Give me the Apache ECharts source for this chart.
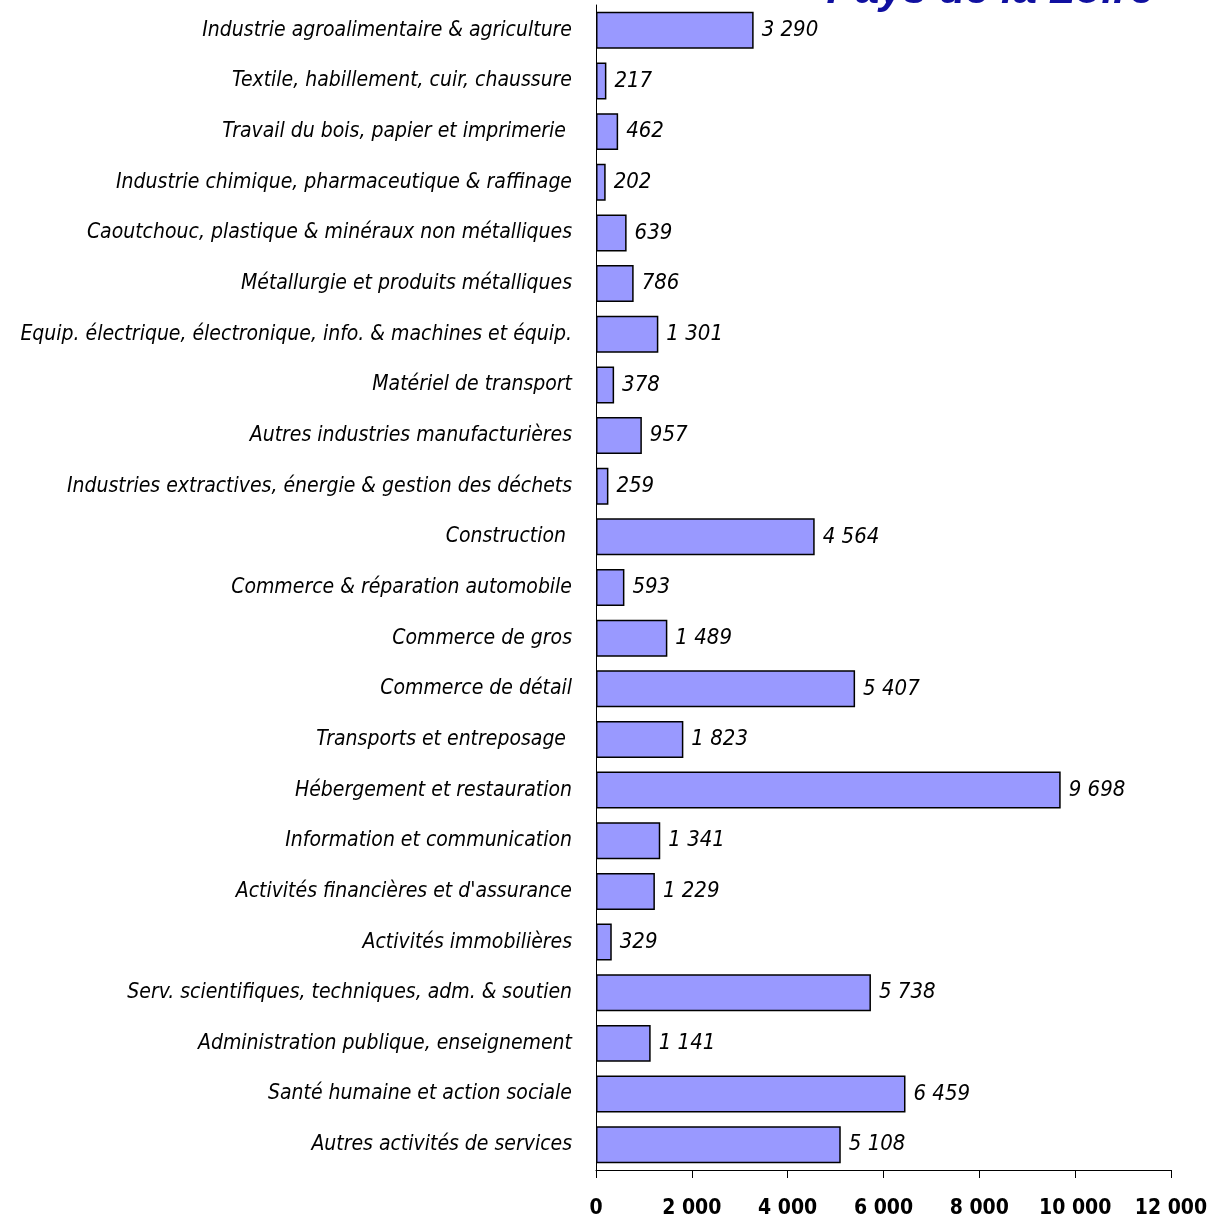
<!DOCTYPE html>
<html><head><meta charset="utf-8">
<script src="https://cdn.jsdelivr.net/npm/echarts@6/dist/echarts.min.js"></script>
<style>html,body{margin:0;padding:0;background:#fff}#c{width:1214px;height:1220px}</style>
</head><body><div id="c"></div>
<script>
const categories = [
  "Industrie agroalimentaire & agriculture",
  "Textile, habillement, cuir, chaussure",
  "Travail du bois, papier et imprimerie ",
  "Industrie chimique, pharmaceutique & raffinage",
  "Caoutchouc, plastique & minéraux non métalliques",
  "Métallurgie et produits métalliques",
  "Equip. électrique, électronique, info. & machines et équip.",
  "Matériel de transport",
  "Autres industries manufacturières",
  "Industries extractives, énergie & gestion des déchets",
  "Construction ",
  "Commerce & réparation automobile",
  "Commerce de gros",
  "Commerce de détail",
  "Transports et entreposage ",
  "Hébergement et restauration",
  "Information et communication",
  "Activités financières et d'assurance",
  "Activités immobilières",
  "Serv. scientifiques, techniques, adm. & soutien",
  "Administration publique, enseignement",
  "Santé humaine et action sociale",
  "Autres activités de services"
];
const values = [3290, 217, 462, 202, 639, 786, 1301, 378, 957, 259, 4564, 593, 1489, 5407, 1823, 9698, 1341, 1229, 329, 5738, 1141, 6459, 5108];
const titleText = "Pays de la Loire";
const xMin = 0, xMax = 12000, xStep = 2000;

const fmt = v => String(v).replace(/\B(?=(\d{3})+(?!\d))/g, " ");
const narrow = '"DejaVu Sans Condensed", "Liberation Sans", sans-serif';

const chart = echarts.init(document.getElementById('c'), null, {renderer: 'canvas'});
chart.setOption({
  animation: false,
  backgroundColor: '#fff',
  grid: {left: 596, top: 5, width: 575, bottom: 50, containLabel: false, outerBoundsMode: 'none'},
  graphic: [{
    type: 'text', right: 60, top: -30,
    style: {text: titleText, fill: '#1010A0', font: 'italic bold 43px "Liberation Sans", Arial, sans-serif'}
  }],
  xAxis: {
    type: 'value', min: xMin, max: xMax, interval: xStep,
    axisLine: {show: true, lineStyle: {color: '#000', width: 1}},
    axisTick: {show: true, inside: false, length: 8, lineStyle: {color: '#000'}},
    splitLine: {show: false},
    axisLabel: {margin: 28, color: '#000', fontWeight: 'bold', fontSize: 21, fontFamily: narrow, formatter: fmt}
  },
  yAxis: {
    type: 'category', data: categories, inverse: true,
    axisLine: {show: true, lineStyle: {color: '#000', width: 1}},
    axisTick: {show: false},
    axisLabel: {margin: 24, color: '#000', fontStyle: 'italic', fontSize: 21, fontFamily: narrow}
  },
  series: [{
    type: 'bar', data: values, barCategoryGap: '27%',
    itemStyle: {color: '#9999FF', borderColor: '#000', borderWidth: 1.5},
    label: {show: true, position: 'right', distance: 8, color: '#000', fontStyle: 'italic', fontSize: 22, fontFamily: narrow, formatter: p => fmt(p.value)}
  }]
});
</script></body></html>
